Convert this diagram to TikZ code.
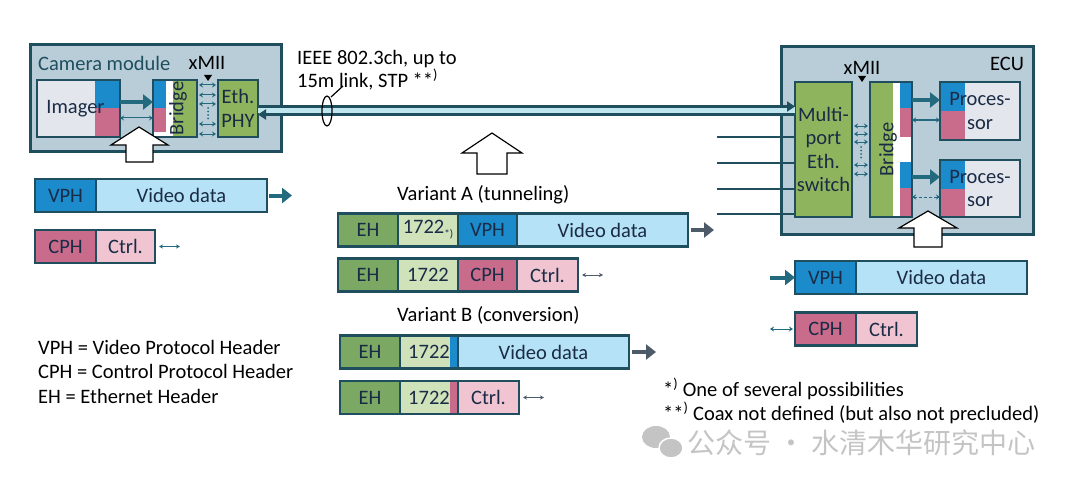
\documentclass[tikz,border=0pt]{standalone}
\usepackage{fontspec}
\setmainfont{Carlito}
\newfontfamily\cjk{Noto Sans CJK SC}
\usetikzlibrary{arrows.meta}

\definecolor{dkteal}{HTML}{1F4E5F}
\definecolor{arrowc}{HTML}{246A7E}
\definecolor{modfill}{HTML}{B8CDD8}
\definecolor{grn}{HTML}{8FB45E}
\definecolor{ehgrn}{HTML}{7BA862}
\definecolor{ltgrn}{HTML}{CFE2BA}
\definecolor{vphblue}{HTML}{1C8BCB}
\definecolor{vdblue}{HTML}{B5E2F6}
\definecolor{cphpink}{HTML}{C96C8C}
\definecolor{ctrlpink}{HTML}{F0C4D1}
\definecolor{txt}{HTML}{1A2B45}
\definecolor{imgfill}{HTML}{E3E6EC}
\definecolor{cable}{HTML}{BFE6EE}
\definecolor{pktgray}{HTML}{4D5B68}
\definecolor{wmgray}{HTML}{C4C4C4}

\begin{document}
\begin{tikzpicture}[x=1pt,y=-1pt,
  box/.style={draw=dkteal,line width=2.5pt,inner sep=0pt,outer sep=0pt,text=txt,
    font=\fontsize{20.5}{23.5}\selectfont,align=center},
  module/.style={box,line width=3pt,fill=modfill},
  seg/.style={box,anchor=west,minimum height=33pt},
  txtlbl/.style={inner sep=0pt,font=\fontsize{20.5}{23}\selectfont},
  thickarrow/.style={arrowc,line width=4pt,-{Triangle[length=10pt,width=15pt]}},
  thinarrow/.style={arrowc,line width=1pt,{Stealth[length=4pt,width=5pt]}-{Stealth[length=4pt,width=5pt]}},
  pktarrow/.style={pktgray,line width=4pt,-{Triangle[length=10pt,width=15pt]},shorten <=3pt},
  smallarrow/.style={pktgray,line width=0.8pt,{Stealth[length=4pt,width=4pt]}-{Stealth[length=4pt,width=4pt]},shorten <=4pt},
  cableline/.style={dkteal,line width=2.5pt},
  bigarrow/.style={draw=black,fill=white,line width=1.2pt},
  imgpic/.style={path picture={
    \fill[vphblue] (path picture bounding box.north east) rectangle ([xshift=-25pt]path picture bounding box.east);
    \fill[cphpink] ([xshift=-25pt]path picture bounding box.east) rectangle (path picture bounding box.south east);}},
  procpic/.style={path picture={
    \fill[vphblue] (path picture bounding box.north west) rectangle ([xshift=25pt]path picture bounding box.west);
    \fill[cphpink] (path picture bounding box.west) rectangle ([xshift=25pt]path picture bounding box.south west);}},
  rstrip/.style={path picture={
    \fill[#1] ([xshift=-8pt]path picture bounding box.north east) rectangle (path picture bounding box.south east);}}]

  \useasboundingbox (0,0) rectangle (1080,487);

  % camera module
  \node[module,minimum width=251pt,minimum height=106pt] (cam) at (155.5,98) {};
  \node[txtlbl,anchor=west,text=dkteal] (camlbl) at (38,63) {Camera module};
  \node[txtlbl] (xmiiC) at (207,63) {xMII};
  \fill (204,75) -- (212,75) -- (208,81) -- cycle;
  \node[box,fill=imgfill,imgpic,minimum width=83pt,minimum height=57pt] (imager) at (78.5,108.5) {Imager\kern6pt};
  \node[box,fill=grn,minimum width=44pt,minimum height=57pt,path picture={
    \fill[white] (path picture bounding box.north west) rectangle ([xshift=20pt]path picture bounding box.south west);
    \fill[vphblue] (path picture bounding box.north west) rectangle ([xshift=13pt]path picture bounding box.west);
    \fill[cphpink] (path picture bounding box.west) rectangle ([xshift=13pt,yshift=5pt]path picture bounding box.south west);
    }] (bridgeC) at (175,108.5) {};
  \node[txtlbl,rotate=90,text=txt] (bridgeCtxt) at ([xshift=3pt]bridgeC.center) {Bridge};
  \node[box,fill=grn,minimum width=40pt,minimum height=57pt] (phyC) at (238,108.5) {Eth.\\PHY};

  \draw[thickarrow] (imager.east |- 0,102) -- (bridgeC.west |- 0,102);
  \draw[thinarrow] (imager.east |- 0,118) -- (bridgeC.west |- 0,118);
  \path[thinarrow,shorten <=2pt,shorten >=2pt]
    (bridgeC.east |- 0,85) edge (phyC.west |- 0,85)
    (bridgeC.east |- 0,95) edge (phyC.west |- 0,95)
    (bridgeC.east |- 0,104) edge (phyC.west |- 0,104)
    (bridgeC.east |- 0,124) edge (phyC.west |- 0,124)
    (bridgeC.east |- 0,134) edge (phyC.west |- 0,134);
  \draw[arrowc,line width=2pt,line cap=round,dash pattern=on 0pt off 3.5pt] (208,108) -- (208,121);

  \draw[bigarrow] (139,127) -- ++(29,18) -- ++(-15,0) -- ++(0,17) -- ++(-27,0) -- ++(0,-17) -- ++(-15,0) -- cycle;

  % ECU
  \node[module,minimum width=252pt,minimum height=187pt] (ecu) at (907,140.5) {};
  \node[txtlbl] (eculbl) at (1007,64) {ECU};
  \node[txtlbl] (xmiiE) at (862,68) {xMII};
  \fill (858,76) -- (866,76) -- (862,82) -- cycle;
  \node[box,fill=grn,minimum width=57pt,minimum height=135pt] (switch) at (823.5,149.5) {Multi-\\port\\Eth.\\switch};
  \node[box,fill=grn,minimum width=42pt,minimum height=135pt,path picture={
    \fill[white] ([xshift=-19pt]path picture bounding box.north east) rectangle (path picture bounding box.south east);
    \fill[vphblue] ([xshift=-12pt]path picture bounding box.north east) rectangle ([yshift=-26pt]path picture bounding box.north east);
    \fill[cphpink] ([xshift=-12pt,yshift=-26pt]path picture bounding box.north east) rectangle ([yshift=-55pt]path picture bounding box.north east);
    \fill[vphblue] ([xshift=-12pt,yshift=-80pt]path picture bounding box.north east) rectangle ([yshift=-106pt]path picture bounding box.north east);
    \fill[cphpink] ([xshift=-12pt,yshift=-106pt]path picture bounding box.north east) rectangle (path picture bounding box.south east);
    }] (bridgeE) at (891,149.5) {};
  \node[txtlbl,rotate=90,text=txt] (bridgeEtxt) at ([xshift=-3pt]bridgeE.center) {Bridge};
  \node[box,fill=imgfill,procpic,minimum width=80pt,minimum height=58pt] (procU) at (980,111) {Proces-\\sor};
  \node[box,fill=imgfill,procpic,minimum width=80pt,minimum height=57pt] (procL) at (980,188.5) {Proces-\\sor};

  \path[thinarrow,shorten <=2pt,shorten >=2pt]
    (switch.east |- 0,126) edge (bridgeE.west |- 0,126)
    (switch.east |- 0,134) edge (bridgeE.west |- 0,134)
    (switch.east |- 0,142) edge (bridgeE.west |- 0,142)
    (switch.east |- 0,165) edge (bridgeE.west |- 0,165)
    (switch.east |- 0,174) edge (bridgeE.west |- 0,174);
  \draw[arrowc,line width=2pt,line cap=round,dash pattern=on 0pt off 3.5pt] (861,147) -- (861,161);
  \draw[thickarrow] (bridgeE.east |- 0,100) -- (procU.west |- 0,100);
  \draw[thinarrow] (bridgeE.east |- 0,120) -- (procU.west |- 0,120);
  \draw[thickarrow] (bridgeE.east |- 0,177) -- (procL.west |- 0,177);
  \draw[thinarrow,dash pattern=on 3pt off 2pt] (bridgeE.east |- 0,197) -- (procL.west |- 0,197);

  \draw[bigarrow] (928,211) -- ++(29,17) -- ++(-15,0) -- ++(0,19) -- ++(-28,0) -- ++(0,-19) -- ++(-15,0) -- cycle;

  % link
  \draw[cable,line width=6pt] ([yshift=-2pt]phyC.east) -- ([yshift=-2pt]phyC.east -| switch.west);
  \draw[cableline,-{Triangle[length=8pt,width=10pt]}] ([yshift=2pt]phyC.east) -- ([yshift=2pt]phyC.east -| switch.west);
  \draw[cableline,{Triangle[length=8pt,width=10pt]}-] ([yshift=-6pt]phyC.east) -- ([yshift=-6pt]phyC.east -| switch.west);
  \coordinate (port2) at (717,137);
  \coordinate (port3) at (717,163);
  \coordinate (port4) at (717,189);
  \coordinate (port5) at (717,214);
  \draw[cableline] (port2) -- (port2 -| switch.west);
  \draw[cableline] (port3) -- (port3 -| switch.west);
  \draw[cableline] (port4) -- (port4 -| switch.west);
  \draw[cableline] (port5) -- (port5 -| switch.west);
  \draw[line width=1.2pt] (327,111) ellipse [x radius=5pt,y radius=15pt];
  \draw[line width=1.2pt] (331,97) -- (343,86);
  \node[txtlbl,anchor=west,align=left] (linklbl) at (297,70) {IEEE 802.3ch, up to\\15m link, STP **\textsuperscript{)}};

  \draw[bigarrow] (492,133) -- ++(30,20) -- ++(-15,0) -- ++(0,21) -- ++(-30,0) -- ++(0,-21) -- ++(-15,0) -- cycle;

  % left packets
  \node[seg,fill=vphblue,minimum width=61pt] (vphL) at (35,195.5) {VPH};
  \node[seg,fill=vdblue,minimum width=171pt] (vdL) at (vphL.east) {Video data};
  \node[seg,fill=cphpink,minimum width=61pt] (cphL) at (35,246.5) {CPH};
  \node[seg,fill=ctrlpink,minimum width=59pt] (ctrlL) at (cphL.east) {Ctrl.};
  \draw[thickarrow,shorten <=2pt] (vdL.east) -- ++(25,0);
  \draw[smallarrow,arrowc] (ctrlL.east) -- ++(25,0);

  % variant A
  \node[txtlbl,anchor=west] (varA) at (397,195) {Variant A (tunneling)};
  \node[seg,fill=ehgrn,minimum width=60pt] (ehA) at (338,230) {EH};
  \node[seg,fill=ltgrn,minimum width=60pt] (idA) at (ehA.east) {1722\raisebox{-4pt}{\fontsize{11}{11}\selectfont *)}};
  \node[seg,fill=vphblue,minimum width=59pt] (vphA) at (idA.east) {VPH};
  \node[seg,fill=vdblue,minimum width=171pt] (vdA) at (vphA.east) {Video data};
  \draw[pktarrow] (vdA.east) -- ++(26,0);
  \node[seg,fill=ehgrn,minimum width=60pt] (ehA2) at (338,275) {EH};
  \node[seg,fill=ltgrn,minimum width=60pt] (idA2) at (ehA2.east) {1722};
  \node[seg,fill=cphpink,minimum width=59pt] (cphA) at (idA2.east) {CPH};
  \node[seg,fill=ctrlpink,minimum width=61pt] (ctrlA) at (cphA.east) {Ctrl.};
  \draw[smallarrow] (ctrlA.east) -- ++(25,0);

  % variant B
  \node[txtlbl,anchor=west] (varB) at (397,315) {Variant B (conversion)};
  \node[seg,fill=ehgrn,minimum width=60pt] (ehB) at (340,352) {EH};
  \node[seg,fill=ltgrn,rstrip=vphblue,minimum width=58pt] (idB) at (ehB.east) {1722};
  \node[seg,fill=vdblue,minimum width=171pt] (vdB) at (idB.east) {Video data};
  \draw[pktarrow] (vdB.east) -- ++(27,0);
  \node[seg,fill=ehgrn,minimum width=60pt] (ehB2) at (340,397.5) {EH};
  \node[seg,fill=ltgrn,rstrip=cphpink,minimum width=58pt] (idB2) at (ehB2.east) {1722};
  \node[seg,fill=ctrlpink,minimum width=61pt] (ctrlB) at (idB2.east) {Ctrl.};
  \draw[smallarrow] (ctrlB.east) -- ++(25,0);

  % right packets
  \node[seg,fill=vphblue,minimum width=61pt] (vphR) at (795,277.5) {VPH};
  \node[seg,fill=vdblue,minimum width=171pt] (vdR) at (vphR.east) {Video data};
  \node[seg,fill=cphpink,minimum width=61pt] (cphR) at (795,329) {CPH};
  \node[seg,fill=ctrlpink,minimum width=61pt] (ctrlR) at (cphR.east) {Ctrl.};
  \coordinate (inV) at (770,277.5);
  \coordinate (inC) at (770,329);
  \draw[thickarrow] (inV) -- (vphR.west);
  \draw[thinarrow] (inC) -- ([xshift=-2pt]cphR.west);

  % legend and notes
  \node[txtlbl,anchor=west] (legV) at (38,347) {VPH = Video Protocol Header};
  \node[txtlbl,anchor=west] (legC) at (38,371) {CPH = Control Protocol Header};
  \node[txtlbl,anchor=west] (legE) at (38,396) {EH = Ethernet Header};
  \node[txtlbl,anchor=west] (note1) at (663,389) {*\textsuperscript{)} One of several possibilities};
  \node[txtlbl,anchor=west] (note2) at (663,413) {**\textsuperscript{)} Coax not defined (but also not precluded)};

  % watermark
  \fill[wmgray] (656,437) ellipse [x radius=14pt,y radius=11pt];
  \fill[wmgray,draw=white,line width=1.5pt] (671,448) ellipse [x radius=12pt,y radius=10pt];
  \node[inner sep=0pt,anchor=west,text=wmgray,font=\cjk\fontsize{28}{28}\selectfont] (wm) at (687,443) {公众号 · 水清木华研究中心};
\end{tikzpicture}
\end{document}
